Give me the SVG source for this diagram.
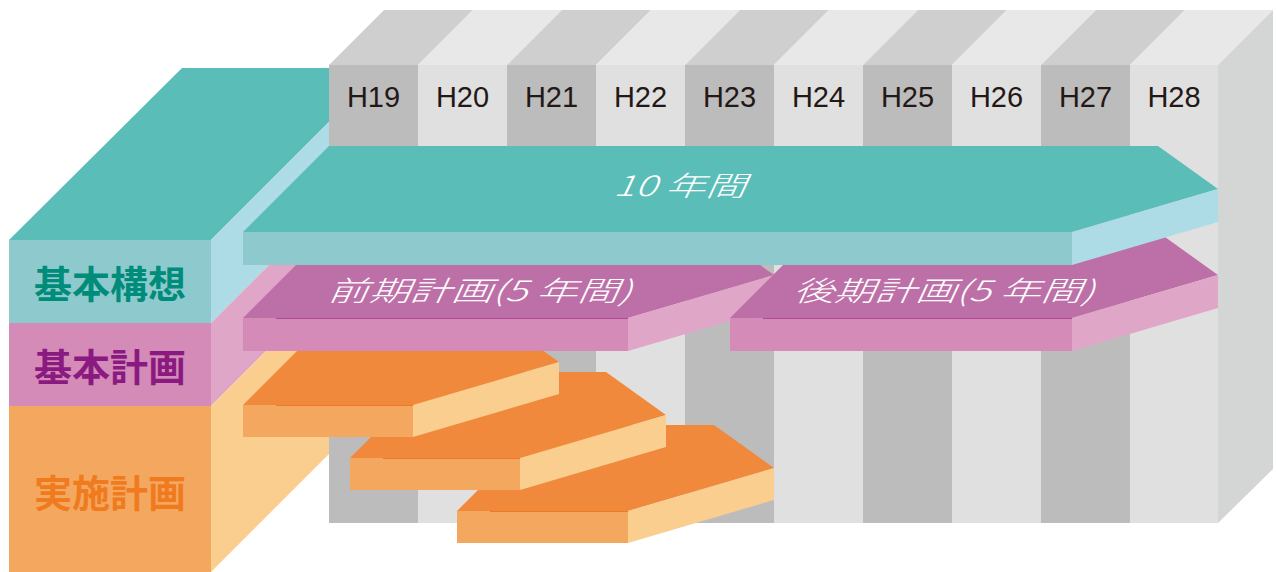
<svg xmlns="http://www.w3.org/2000/svg" width="1276" height="572" viewBox="0 0 1276 572">
<style>
.tt{fill:#5bbdb7}.tf{fill:#8ecacd}.ts{fill:#aedce6}
.pt{fill:#bd70a8}.pf{fill:#d48bb8}.ps{fill:#e0a6c8}
.ot{fill:#f0893b}.of{fill:#f4a75e}.os{fill:#f9ce8f}
.cd{fill:#bcbcbc}.cl{fill:#e0e0e0}.td{fill:#cfcfcf}.tl{fill:#e8e8e8}.rs{fill:#d4d6d6}
.yr{font-family:"Liberation Sans",Arial,sans-serif;font-size:29px;fill:#231815;text-anchor:middle}
.lb{font-family:"Noto Sans CJK JP","Noto Sans CJK SC",sans-serif;font-size:38px;font-weight:bold;text-anchor:middle}
.it{font-family:"Noto Sans CJK JP","Noto Sans CJK SC",sans-serif;font-size:28px;font-weight:300;fill:#ffffff;text-anchor:middle}
.pl{stroke:#b0479c;stroke-width:1.2}.ol{stroke:#ee7a22;stroke-width:1.2}
</style>
<!-- left block back faces -->
<g id="left-block-back">
<polygon class="tt" points="9,240 182,68 383,68 211,240"/>
<polygon class="ts" points="211,240 383,68 383,151 211,323"/>
<polygon class="ps" points="211,323 383,151 383,234 211,406"/>
<polygon class="os" points="211,406 383,234 383,400 211,572"/>
</g>
<!-- year grid -->
<g id="grid">
<polygon class="td" points="329,65 384,10 473,10 418,65"/>
<polygon class="tl" points="418,65 473,10 562,10 507,65"/>
<polygon class="td" points="507,65 562,10 651,10 596,65"/>
<polygon class="tl" points="596,65 651,10 740,10 685,65"/>
<polygon class="td" points="685,65 740,10 829,10 774,65"/>
<polygon class="tl" points="774,65 829,10 918,10 863,65"/>
<polygon class="td" points="863,65 918,10 1007,10 952,65"/>
<polygon class="tl" points="952,65 1007,10 1096,10 1041,65"/>
<polygon class="td" points="1041,65 1096,10 1185,10 1130,65"/>
<polygon class="tl" points="1130,65 1185,10 1273,10 1218,65"/>
<polygon class="rs" points="1218,65 1273,10 1273,469 1218,523"/>
<rect class="cd" x="329" y="65" width="89" height="458"/>
<rect class="cl" x="418" y="65" width="89" height="458"/>
<rect class="cd" x="507" y="65" width="89" height="458"/>
<rect class="cl" x="596" y="65" width="89" height="458"/>
<rect class="cd" x="685" y="65" width="89" height="458"/>
<rect class="cl" x="774" y="65" width="89" height="458"/>
<rect class="cd" x="863" y="65" width="89" height="458"/>
<rect class="cl" x="952" y="65" width="89" height="458"/>
<rect class="cd" x="1041" y="65" width="89" height="458"/>
<rect class="cl" x="1130" y="65" width="88" height="458"/>
<text class="yr" x="373.5" y="107">H19</text>
<text class="yr" x="462.5" y="107">H20</text>
<text class="yr" x="551.5" y="107">H21</text>
<text class="yr" x="640.5" y="107">H22</text>
<text class="yr" x="729.5" y="107">H23</text>
<text class="yr" x="818.5" y="107">H24</text>
<text class="yr" x="907.5" y="107">H25</text>
<text class="yr" x="996.5" y="107">H26</text>
<text class="yr" x="1085.5" y="107">H27</text>
<text class="yr" x="1174" y="107">H28</text>
</g>
<!-- left block front -->
<g id="kihon-koso">
<rect class="tf" x="9" y="240" width="202" height="83"/>
<text class="lb" x="110" y="281" dominant-baseline="central" fill="#008c7a">基本構想</text>
</g>
<g id="kihon-keikaku">
<rect class="pf" x="9" y="323" width="202" height="83"/>
<text class="lb" x="110" y="364" dominant-baseline="central" fill="#8b1a80">基本計画</text>
</g>
<g id="jisshi-keikaku">
<rect class="of" x="9" y="406" width="202" height="166"/>
<text class="lb" x="110" y="490" dominant-baseline="central" fill="#f07b1e">実施計画</text>
</g>
<!-- implementation steps -->
<g id="step3">
<polygon class="ot" points="457,511 543,425 714,425 774,468 628,511"/>
<polygon class="os" points="628,511 774,468 774,500 628,543"/>
<rect class="of" x="457" y="511" width="171" height="32"/>
<line class="ol" x1="490" y1="511.5" x2="628" y2="511.5"/>
</g>
<g id="step2">
<polygon class="ot" points="350,458 436,372 606,372 666,415 520,458"/>
<polygon class="os" points="520,458 666,415 666,447 520,490"/>
<rect class="of" x="350" y="458" width="170" height="32"/>
<line class="ol" x1="383" y1="458.5" x2="520" y2="458.5"/>
</g>
<g id="step1">
<polygon class="ot" points="243,405 329,319 499,319 559,362 413,405"/>
<polygon class="os" points="413,405 559,362 559,394 413,437"/>
<rect class="of" x="243" y="405" width="170" height="32"/>
<line class="ol" x1="276" y1="405.5" x2="413" y2="405.5"/>
</g>
<!-- pink bars -->
<g id="zenki">
<polygon class="pt" points="243,318 329,232 714,232 774,275 628,318"/>
<polygon class="ps" points="628,318 774,275 774,308 628,351"/>
<rect class="pf" x="243" y="318" width="385" height="33"/>
<line class="pl" x1="276" y1="318.5" x2="628" y2="318.5"/>
<text class="it" transform="translate(479,301) skewX(-25)" x="0" y="0" textLength="304" lengthAdjust="spacingAndGlyphs">前期計画(5 年間)</text>
</g>
<g id="koki">
<polygon class="pt" points="730,318 816,232 1158,232 1218,275 1072,318"/>
<polygon class="ps" points="1072,318 1218,275 1218,308 1072,351"/>
<rect class="pf" x="730" y="318" width="342" height="33"/>
<line class="pl" x1="763" y1="318.5" x2="1072" y2="318.5"/>
<text class="it" transform="translate(943,301) skewX(-25)" x="0" y="0" textLength="301" lengthAdjust="spacingAndGlyphs">後期計画(5 年間)</text>
</g>
<!-- 10 year bar -->
<g id="ten-years">
<polygon class="tt" points="243,232 329,146 1158,146 1218,189 1072,232"/>
<polygon class="ts" points="1072,232 1218,189 1218,222 1072,265"/>
<rect class="tf" x="243" y="232" width="829" height="33"/>
<text class="it" transform="translate(679,196) skewX(-25)" x="0" y="0" textLength="132" lengthAdjust="spacingAndGlyphs">10 年間</text>
</g>
<g id="connectors"></g>
</svg>
